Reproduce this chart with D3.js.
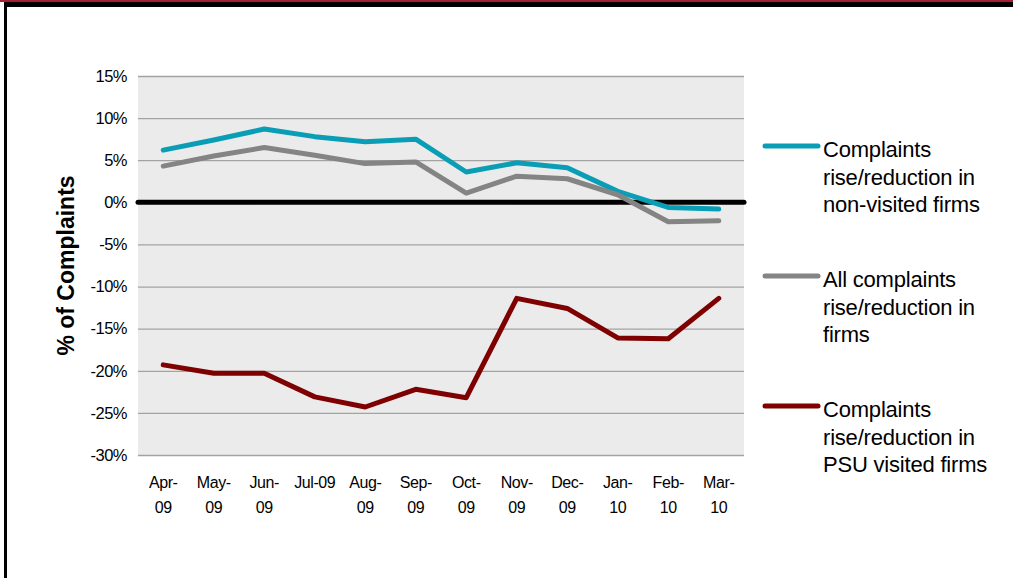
<!DOCTYPE html>
<html>
<head>
<meta charset="utf-8">
<script src="https://cdn.jsdelivr.net/npm/d3@7"></script>
<style>
  html, body { margin: 0; padding: 0; background: #fff; }
  svg { display: block; font-family: "Liberation Sans", Arial, sans-serif; }
</style>
</head>
<body>
<svg id="chart" width="1013" height="578"></svg>
<script>
// ---- data ----
const months = ["Apr-09","May-09","Jun-09","Jul-09","Aug-09","Sep-09","Oct-09","Nov-09","Dec-09","Jan-10","Feb-10","Mar-10"];
const nonVisited = [6.2, 7.4, 8.7, 7.8, 7.2, 7.5, 3.6, 4.7, 4.1, 1.3, -0.6, -0.8];
const allFirms   = [4.3, 5.5, 6.5, 5.6, 4.6, 4.8, 1.1, 3.1, 2.8, 0.9, -2.3, -2.2];
const psuVisited = [-19.3, -20.3, -20.3, -23.1, -24.3, -22.2, -23.2, -11.4, -12.6, -16.1, -16.2, -11.4];
const yTicks = [15, 10, 5, 0, -5, -10, -15, -20, -25, -30];
const seriesNames = [
  ["Complaints", "rise/reduction in", "non-visited firms"],
  ["All complaints", "rise/reduction in", "firms"],
  ["Complaints", "rise/reduction in", "PSU visited firms"]
];
const seriesColors = ["#0a9db6", "#848484", "#7f0000"];
const yTitle = "% of Complaints";

const series = [nonVisited, allFirms, psuVisited];

// ---- layout ----
const svg = d3.select("#chart");
const plot = { left: 138, right: 744, top: 76, bottom: 455 };

// frame
svg.append("rect").attr("x", 0).attr("y", 0).attr("width", 1013).attr("height", 2).attr("fill", "#a51f35");
svg.append("rect").attr("x", 4).attr("y", 2).attr("width", 1009).attr("height", 5).attr("fill", "#000");
svg.append("rect").attr("x", 4).attr("y", 2).attr("width", 3).attr("height", 576).attr("fill", "#000");

const x = d3.scaleBand().domain(months).range([plot.left, plot.right]);
const y = d3.scaleLinear().domain([-30, 15]).range([plot.bottom, plot.top]);
const xc = d => x(d) + x.bandwidth() / 2;

// plot background
svg.append("rect")
  .attr("x", plot.left).attr("y", plot.top)
  .attr("width", plot.right - plot.left).attr("height", plot.bottom - plot.top)
  .attr("fill", "#ebebeb");

// gridlines
const grid = svg.append("g").attr("transform", `translate(${plot.left},0)`)
  .call(d3.axisLeft(y).tickValues(yTicks).tickSize(-(plot.right - plot.left)).tickFormat(""));
grid.select(".domain").remove();
grid.selectAll("line").attr("stroke", "#a3a3a3").attr("stroke-width", 1.3);

// y tick labels
const yAxis = svg.append("g").attr("transform", `translate(${plot.left},0)`)
  .call(d3.axisLeft(y).tickValues(yTicks).tickSize(0).tickPadding(11).tickFormat(d => d + "%"));
yAxis.select(".domain").remove();
yAxis.selectAll("text")
  .attr("font-family", "Liberation Sans, Arial, sans-serif")
  .attr("font-size", 16.5).attr("fill", "#000").attr("letter-spacing", -0.5);

// zero line
svg.append("line")
  .attr("x1", plot.left).attr("x2", plot.right)
  .attr("y1", y(0)).attr("y2", y(0))
  .attr("stroke", "#000").attr("stroke-width", 5).attr("stroke-linecap", "round");

// x labels (wrapped at hyphen when too wide)
const xl = svg.append("g");
months.forEach(m => {
  const t = xl.append("text")
    .attr("x", xc(m)).attr("y", 488)
    .attr("text-anchor", "middle")
    .attr("font-size", 16).attr("letter-spacing", -0.4).attr("fill", "#000")
    .text(m);
  const w = t.node().getComputedTextLength();
  if (w > 45) {
    const parts = m.split("-");
    t.text(parts[0] + "-");
    xl.append("text")
      .attr("x", xc(m)).attr("y", 513)
      .attr("text-anchor", "middle")
      .attr("font-size", 16).attr("letter-spacing", -0.4).attr("fill", "#000")
      .text(parts[1]);
  }
});

// y title
svg.append("text")
  .attr("transform", `translate(74,${(plot.top + plot.bottom) / 2}) rotate(-90)`)
  .attr("text-anchor", "middle")
  .attr("font-size", 23).attr("font-weight", "bold").attr("fill", "#000")
  .text(yTitle);

// lines
const line = d3.line().x((d, i) => xc(months[i])).y(d => y(d));
series.forEach((s, i) => {
  svg.append("path")
    .attr("d", line(s))
    .attr("fill", "none")
    .attr("stroke", seriesColors[i])
    .attr("stroke-width", 5)
    .attr("stroke-linejoin", "round")
    .attr("stroke-linecap", "round");
});

// legend
const legendTops = [146, 276, 406];
seriesNames.forEach((lines, i) => {
  const g = svg.append("g");
  g.append("line")
    .attr("x1", 765).attr("x2", 818)
    .attr("y1", legendTops[i]).attr("y2", legendTops[i])
    .attr("stroke", seriesColors[i]).attr("stroke-width", 5).attr("stroke-linecap", "round");
  lines.forEach((txt, k) => {
    g.append("text")
      .attr("x", 823).attr("y", legendTops[i] + 11 + k * 27.5)
      .attr("font-size", 22).attr("letter-spacing", -0.2).attr("fill", "#000")
      .text(txt);
  });
});
</script>
</body>
</html>
